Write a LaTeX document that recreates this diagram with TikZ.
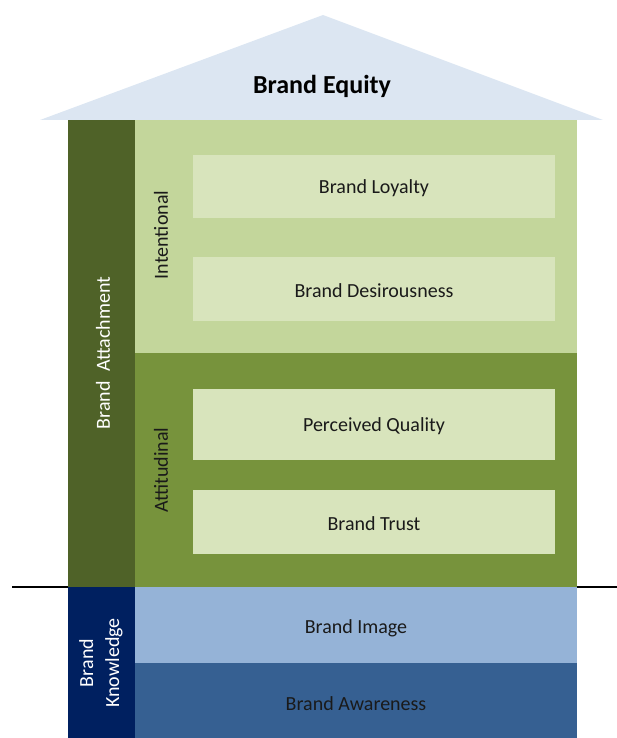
\documentclass[tikz,border=0pt]{standalone}
\usepackage{fontspec}
\setmainfont{Carlito}
\definecolor{roofblue}{HTML}{DCE6F2}
\definecolor{olivedark}{HTML}{4F6228}
\definecolor{greenlight}{HTML}{C3D69B}
\definecolor{greenmid}{HTML}{77933C}
\definecolor{boxfill}{HTML}{D8E4BC}
\definecolor{navy}{HTML}{002060}
\definecolor{bluelight}{HTML}{95B3D7}
\definecolor{bluemid}{HTML}{366092}
\definecolor{ink}{HTML}{1A1A1A}
\begin{document}
\begin{tikzpicture}[x=1pt,y=-1pt,
  region/.style={draw=none, inner sep=0pt, outer sep=0pt, anchor=north west},
  item/.style={region, fill=boxfill, minimum width=362pt},
  lbl/.style={font=\fontsize{20}{24}\selectfont, text=ink, inner sep=0pt},
  sidelbl/.style={font=\fontsize{20}{24}\selectfont, inner sep=0pt, rotate=90},
]
\useasboundingbox (0,0) rectangle (617,738);

% ground line
\coordinate (gl) at (12,587);
\coordinate (gr) at (617,587);
\draw[line width=2pt, black] (gl) -- (gr);

% roof
\fill[roofblue] (40,120) -- (323,15) -- (603,120) -- cycle;
\node[font=\bfseries\fontsize{26}{30}\selectfont, text=black] (equity) at (322,86) {Brand Equity};

% attachment column and layers
\node[region, fill=olivedark, minimum width=67pt, minimum height=467pt] (attach) at (68,120) {};
\node[region, fill=greenlight, minimum width=442pt, minimum height=233pt] (intent) at (135,120) {};
\node[region, fill=greenmid, minimum width=442pt, minimum height=234pt] (attit) at (135,353) {};

\node[item, minimum height=63pt] (loyal) at (193,155) {};
\node[item, minimum height=64pt] (desir) at (193,257) {};
\node[item, minimum height=71pt] (qual) at (193,389) {};
\node[item, minimum height=64pt] (trust) at (193,490) {};

\node[lbl] at ([yshift=-2pt]loyal.center) {Brand Loyalty};
\node[lbl] at ([yshift=-2pt]desir.center) {Brand Desirousness};
\node[lbl] at ([yshift=-2pt]qual.center) {Perceived Quality};
\node[lbl] at ([yshift=-2pt]trust.center) {Brand Trust};

\node[sidelbl, text=white] (attachlbl) at (103,353) {Brand\ \ Attachment};
\node[sidelbl, text=ink] (intentlbl) at (161,235) {Intentional};
\node[sidelbl, text=ink] (attitlbl) at (161,470) {Attitudinal};

% knowledge column and layers
\node[region, fill=navy, minimum width=67pt, minimum height=151pt] (know) at (68,587) {};
\node[region, fill=bluelight, minimum width=442pt, minimum height=76pt] (image) at (135,587) {};
\node[region, fill=bluemid, minimum width=442pt, minimum height=75pt] (aware) at (135,663) {};

\node[lbl] at ([yshift=-3pt]image.center) {Brand Image};
\node[lbl] at ([yshift=-3pt]aware.center) {Brand Awareness};
\node[sidelbl, text=white, align=center, font=\fontsize{20}{26}\selectfont] (knowlbl) at (101,663) {Brand\\Knowledge};
\end{tikzpicture}
\end{document}
